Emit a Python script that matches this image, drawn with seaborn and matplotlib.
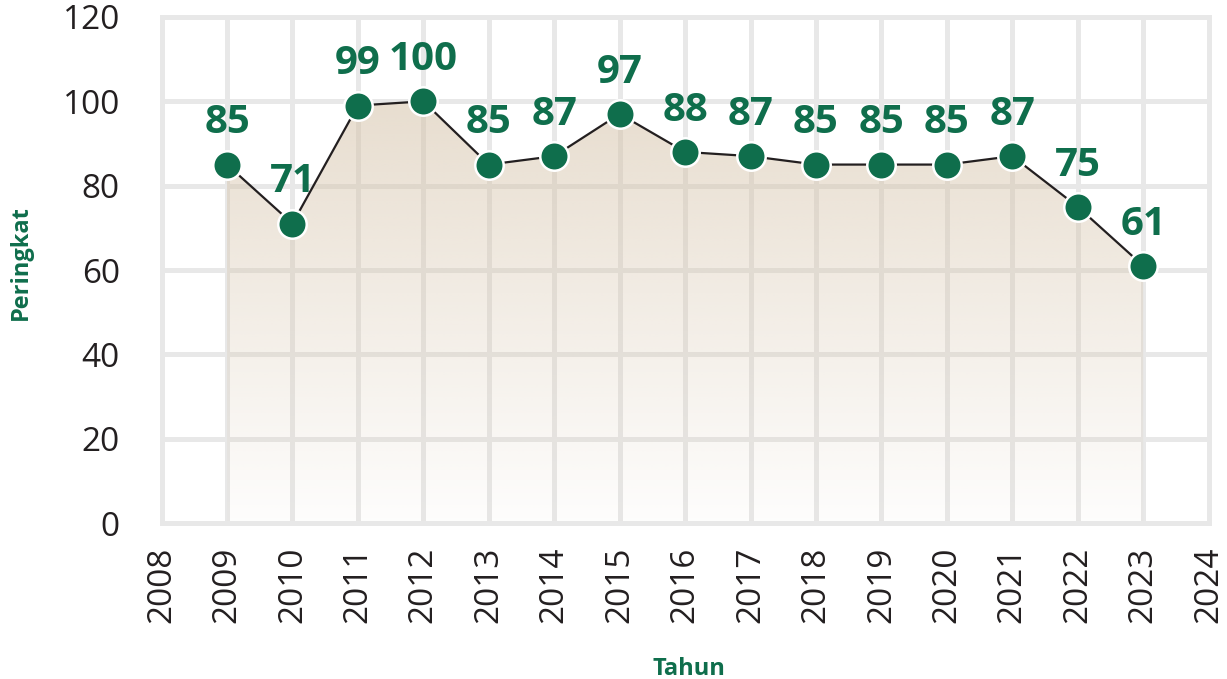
import numpy as np
import matplotlib
matplotlib.use("Agg")
import matplotlib.pyplot as plt
import seaborn as sns
import pandas as pd

years = [2009, 2010, 2011, 2012, 2013, 2014, 2015, 2016, 2017, 2018, 2019, 2020, 2021, 2022, 2023]
peringkat = [85, 71, 99, 100, 85, 87, 97, 88, 87, 85, 85, 85, 87, 75, 61]
x_ticks = list(range(2008, 2025))
y_ticks = [0, 20, 40, 60, 80, 100, 120]

sns.set_theme(style="white")
plt.rcParams['font.family'] = ['Open Sans', 'DejaVu Sans']

GREEN = "#0f6e4c"
GRID = "#e8e8e8"
TXT = "#231f20"

df = pd.DataFrame({"Tahun": years, "Peringkat": peringkat})

fig, ax = plt.subplots(figsize=(12.27, 6.79), dpi=100)
fig.subplots_adjust(left=0.1317, right=0.985, top=0.975, bottom=0.2297)

ax.set_xlim(2008, 2024)
ax.set_ylim(0, 120)
ax.set_xticks(x_ticks)
ax.set_yticks(y_ticks)
ax.set_axisbelow(True)
ax.grid(True, color=GRID, linewidth=3.6)
for s in ax.spines.values():
    s.set_color(GRID)
    s.set_linewidth(3.6)

# gradient fill
poly = ax.fill_between(years, peringkat, 0, color="none", linewidth=0)
h = 256
grad = np.zeros((h, 2, 4))
base = np.array([213, 194, 168]) / 255.0
grad[:, :, :3] = base
alpha = np.linspace(0.55, 0.03, h)[:, None]
grad[:, :, 3] = alpha
im = ax.imshow(grad, aspect="auto", extent=[min(years), max(years), 0, max(peringkat)],
               origin="upper", zorder=1.5, interpolation="bilinear")
path = poly.get_paths()[0]
im.set_clip_path(path, transform=ax.transData)
ax.set_xlim(2008, 2024)
ax.set_ylim(0, 120)

sns.lineplot(data=df, x="Tahun", y="Peringkat", ax=ax, color=TXT, linewidth=1.6, zorder=3)
sns.scatterplot(data=df, x="Tahun", y="Peringkat", ax=ax, s=420, color=GREEN,
                edgecolor="white", linewidth=1.8, zorder=4)

for xv, yv in zip(years, peringkat):
    ax.annotate(str(yv), (xv, yv), xytext=(0, 16), textcoords="offset points",
                ha="center", va="bottom", fontsize=29, fontweight="bold", color=GREEN, zorder=5)

ax.set_xticklabels([str(t) for t in x_ticks])
ax.tick_params(axis="x", labelrotation=90, labelsize=24, colors=TXT, length=0, pad=17)
ax.tick_params(axis="y", labelsize=24, colors=TXT, length=0, pad=30)

ax.set_xlabel("Tahun", fontsize=17, fontweight="bold", color=GREEN)
ax.set_ylabel("Peringkat", fontsize=17, fontweight="bold", color=GREEN)
ax.xaxis.label.set_va("baseline")
ax.yaxis.label.set_va("baseline")
ax.xaxis.set_label_coords((689 - 161.6) / 1047, (523 - 675) / 506)
ax.yaxis.set_label_coords((27 - 161.6) / 1047, (523 - 262.5) / 506)

fig.savefig("out.png", dpi=100)
